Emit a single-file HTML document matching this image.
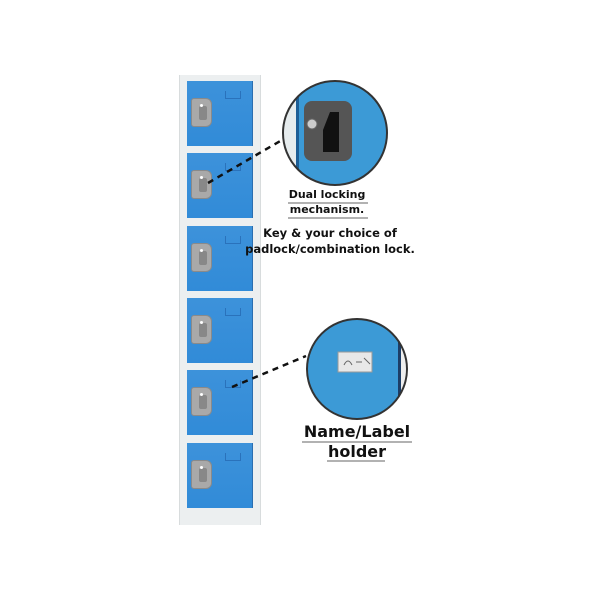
<!DOCTYPE html>
<html><head><style>
body{margin:0;width:600px;height:600px;background:#fff;overflow:hidden;position:relative;font-family:"DejaVu Sans","Liberation Sans",sans-serif}
.frame{position:absolute;left:179px;top:75px;width:80px;height:450px;background:#eceff0;border-left:1px solid #d8dcdd;border-right:1px solid #d8dcdd}
.door{position:absolute;left:187px;width:65px;height:65px;background:linear-gradient(#3d92da,#318bd8);border-right:1px solid #2a6eb0}
.h{position:absolute;left:4px;top:17px;width:19px;height:27px;background:#a9a9a9;border-radius:3px 6px 6px 3px;border:1px solid #8a8a8a}
.h i{position:absolute;left:7px;top:7px;width:8px;height:14px;background:#888;border-radius:2px}
.h b{position:absolute;left:8px;top:5px;width:3px;height:3px;background:#fff;border-radius:50%}
.n{position:absolute;left:38px;top:10px;width:14px;height:7px;border:1px solid #2a72bb;border-top:none}
.t{position:absolute;font-weight:bold;color:#111;text-align:center;white-space:nowrap}
</style></head><body>
<div class="frame"></div>
<div class="door" style="top:81px"><div class="h"><i></i><b></b></div><div class="n"></div></div>
<div class="door" style="top:153px"><div class="h"><i></i><b></b></div><div class="n"></div></div>
<div class="door" style="top:226px"><div class="h"><i></i><b></b></div><div class="n"></div></div>
<div class="door" style="top:298px"><div class="h"><i></i><b></b></div><div class="n"></div></div>
<div class="door" style="top:370px"><div class="h"><i></i><b></b></div><div class="n"></div></div>
<div class="door" style="top:443px"><div class="h"><i></i><b></b></div><div class="n"></div></div>
<svg width="600" height="600" style="position:absolute;left:0;top:0">
<line x1="208" y1="183" x2="282" y2="140" stroke="#111" stroke-width="2.5" stroke-dasharray="6,5"/>
<line x1="232" y1="387" x2="306" y2="356" stroke="#111" stroke-width="2.5" stroke-dasharray="6,5"/>
<defs><clipPath id="c1"><circle cx="335" cy="133" r="52"/></clipPath><clipPath id="c2"><circle cx="357" cy="369" r="50"/></clipPath></defs>
<g clip-path="url(#c1)">
<rect x="270" y="70" width="140" height="130" fill="#3c9ad6"/>
<rect x="270" y="70" width="28" height="130" fill="#e6ecee"/>
<rect x="296" y="70" width="3" height="130" fill="#1d5e96"/>
<rect x="304" y="101" width="48" height="60" rx="8" fill="#555"/>
<path d="M330 112 h9 v40 h-16 v-22 z" fill="#111"/>
<circle cx="312" cy="124" r="5" fill="#ccc" stroke="#666"/>
</g>
<circle cx="335" cy="133" r="52" fill="none" stroke="#333" stroke-width="2"/>
<g clip-path="url(#c2)">
<rect x="300" y="315" width="120" height="110" fill="#3c9ad6"/>
<rect x="398" y="315" width="3" height="110" fill="#1d3d66"/>
<rect x="401" y="315" width="20" height="110" fill="#eee"/>
<rect x="338" y="352" width="34" height="20" fill="#e8e8e8" stroke="#999"/>
<path d="M344 365 q4 -8 8 0 M356 362 h6 M364 358 l6 6" stroke="#666" fill="none"/>
</g>
<circle cx="357" cy="369" r="50" fill="none" stroke="#333" stroke-width="2"/>
<line x1="288" y1="203" x2="368" y2="203" stroke="#666"/>
<line x1="288" y1="218" x2="368" y2="218" stroke="#666"/>
<line x1="302" y1="442" x2="412" y2="442" stroke="#666"/>
<line x1="327" y1="461" x2="385" y2="461" stroke="#666"/>
</svg>
<div class="t" style="left:277px;top:187px;width:100px;font-size:11px;line-height:15px">Dual locking<br>mechanism.</div>
<div class="t" style="left:230px;top:225px;width:200px;font-size:11.5px;line-height:16px">Key &amp; your choice of<br>padlock/combination lock.</div>
<div class="t" style="left:297px;top:422px;width:120px;font-size:16px;line-height:20px">Name/Label<br>holder</div>
</body></html>
